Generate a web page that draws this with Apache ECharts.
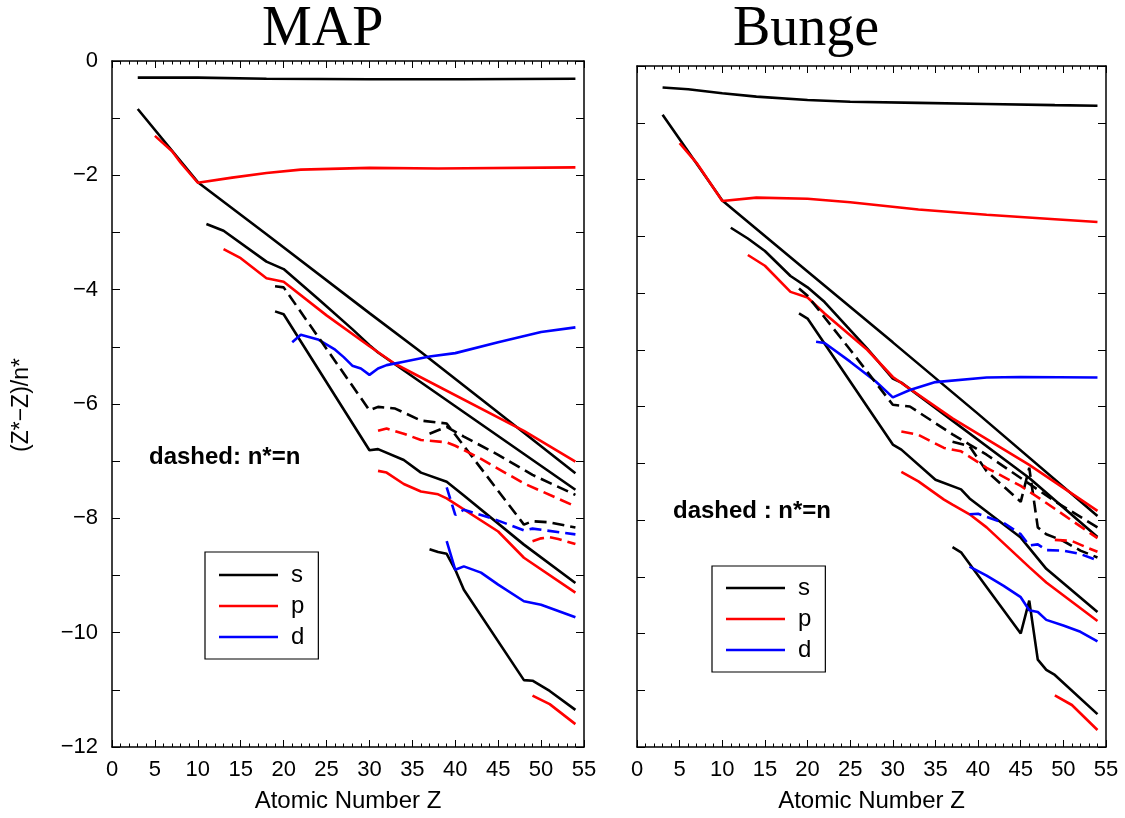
<!DOCTYPE html>
<html>
<head>
<meta charset="utf-8">
<script src="https://cdn.jsdelivr.net/npm/echarts@6/dist/echarts.min.js"></script>
<style>
  html, body { margin: 0; padding: 0; background: #fff; }
  #chart { width: 1125px; height: 818px; }
</style>
</head>
<body>
<div id="chart"></div>
<script>
// (Z* - Z)/n* against atomic number Z; every array holds [Z, value] pairs.
// "N" suffix = the same orbital evaluated with n* = n (drawn dashed).

// ---- MAP ----
const map1s = [[3,-0.29],[10,-0.29],[18,-0.31],[30,-0.32],[41,-0.32],[54,-0.31]];
const map2s = [[3,-0.84],[10,-2.12],[18,-3.03],[30,-4.41],[36,-5.09],[45,-6.15],[54,-7.21]];
const map3s = [[11,-2.85],[13,-2.97],[18,-3.51],[20,-3.64],[24,-4.16],[28,-4.69],[30,-4.97],[31,-5.10],[54,-7.50]];
const map4s = [[19,-4.38],[20,-4.43],[30,-6.81],[31,-6.79],[34,-6.98],[36,-7.20],[39,-7.36],[41,-7.60],[48,-8.46],[54,-9.13]];
const map5s = [[37,-8.54],[38,-8.59],[39,-8.62],[40,-8.90],[41,-9.25],[48,-10.83],[49,-10.84],[51,-11.02],[54,-11.35]];
const map2p = [[5,-1.31],[7,-1.58],[8,-1.78],[10,-2.13],[14,-2.04],[18,-1.96],[22,-1.90],[30,-1.87],[38,-1.88],[54,-1.86]];
const map3p = [[13,-3.29],[15,-3.45],[18,-3.80],[20,-3.86],[25,-4.45],[30,-4.99],[33,-5.30],[48,-6.47],[54,-7.01]];
const map4p = [[31,-7.17],[32,-7.20],[34,-7.40],[36,-7.53],[38,-7.58],[39,-7.65],[45,-8.23],[48,-8.69],[54,-9.30]];
const map5p = [[49,-11.10],[51,-11.25],[54,-11.60]];
const map3d = [[21,-4.92],[22,-4.79],[24,-4.87],[26,-5.05],[27,-5.18],[28,-5.33],[29,-5.38],[30,-5.49],[31,-5.38],[32,-5.32],[34,-5.26],[37,-5.17],[40,-5.11],[45,-4.92],[50,-4.74],[54,-4.66]];
const map4d = [[39,-8.40],[40,-8.90],[41,-8.84],[43,-8.95],[45,-9.16],[48,-9.45],[50,-9.51],[54,-9.73]];
const map4sN = [[19,-3.94],[20,-3.96],[30,-6.11],[31,-6.05],[33,-6.08],[36,-6.29],[39,-6.34],[48,-8.11],[49,-8.05],[51,-8.07],[54,-8.16]];
const map5sN = [[37,-6.52],[38,-6.46],[39,-6.40],[41,-6.57],[45,-6.89],[49,-7.24],[54,-7.59]];
const map4pN = [[31,-6.47],[32,-6.43],[34,-6.52],[36,-6.63],[39,-6.67],[40,-6.73],[43,-6.96],[48,-7.39],[54,-7.79]];
const map5pN = [[49,-8.40],[50,-8.35],[51,-8.33],[52,-8.36],[54,-8.45]];
const map4dN = [[39,-7.46],[40,-7.94],[41,-7.85],[43,-7.94],[45,-8.04],[48,-8.21],[49,-8.18],[54,-8.28]];

// ---- Bunge ----
const bun1s = [[3,-0.38],[6,-0.41],[10,-0.48],[14,-0.54],[20,-0.60],[25,-0.63],[33,-0.65],[41,-0.67],[49,-0.69],[54,-0.70]];
const bun2s = [[3,-0.86],[10,-2.37],[20,-3.62],[30,-4.87],[40,-6.13],[54,-7.93]];
const bun3s = [[11,-2.85],[13,-3.04],[15,-3.26],[18,-3.70],[20,-3.90],[22,-4.16],[27,-4.98],[30,-5.51],[31,-5.58],[46,-7.26],[54,-8.30]];
const bun4s = [[19,-4.36],[20,-4.45],[30,-6.67],[31,-6.76],[35,-7.29],[38,-7.46],[39,-7.62],[45,-8.31],[48,-8.86],[54,-9.62]];
const bun5s = [[37,-8.48],[38,-8.57],[45,-10.00],[46,-9.42],[47,-10.46],[48,-10.64],[49,-10.73],[54,-11.42]];
const bun2p = [[5,-1.36],[7,-1.71],[10,-2.38],[14,-2.32],[20,-2.34],[25,-2.40],[33,-2.53],[41,-2.62],[49,-2.70],[54,-2.75]];
const bun3p = [[13,-3.33],[15,-3.52],[18,-3.98],[20,-4.08],[22,-4.36],[27,-5.00],[30,-5.48],[37,-6.21],[46,-7.03],[54,-7.84]];
const bun4p = [[31,-7.15],[33,-7.32],[36,-7.64],[37,-7.73],[39,-7.90],[41,-8.13],[46,-8.83],[48,-9.10],[54,-9.78]];
const bun5p = [[49,-11.09],[51,-11.26],[54,-11.70]];
const bun3d = [[21,-4.86],[22,-4.88],[25,-5.21],[28,-5.56],[30,-5.84],[32,-5.71],[35,-5.57],[41,-5.49],[45,-5.48],[54,-5.49]];
const bun4d = [[39,-8.82],[41,-8.98],[43,-9.16],[45,-9.36],[46,-9.59],[47,-9.62],[48,-9.76],[50,-9.86],[52,-9.97],[54,-10.14]];
const bun4sN = [[19,-3.92],[20,-4.05],[25,-5.00],[30,-5.97],[32,-6.00],[37,-6.49],[39,-6.67],[41,-6.85],[49,-7.67],[54,-8.13]];
const bun5sN = [[37,-6.62],[39,-6.70],[41,-7.14],[45,-7.68],[46,-7.08],[47,-8.13],[48,-8.25],[50,-8.37],[52,-8.54],[54,-8.66]];
const bun4pN = [[31,-6.44],[33,-6.50],[36,-6.73],[38,-6.79],[41,-7.08],[45,-7.40],[48,-7.70],[54,-8.32]];
const bun5pN = [[49,-8.35],[51,-8.37],[53,-8.50],[54,-8.56]];
const bun4dN = [[39,-7.90],[40,-7.89],[43,-8.05],[45,-8.25],[46,-8.45],[47,-8.43],[48,-8.53],[50,-8.54],[52,-8.60],[54,-8.71]];

const panelTitles = ['MAP', 'Bunge'];
const legendLabels = ['s', 'p', 'd'];
const noteText = ['dashed: n*=n', 'dashed : n*=n'];
const xName = 'Atomic Number Z';
const yName = '(Z*\u2212Z)/n*';

const COLORS = { s: '#000000', p: '#ff0000', d: '#0000ff' };
const SANS = 'Liberation Sans, Arial, Helvetica, sans-serif';
const SERIF = 'Liberation Serif, Times New Roman, serif';

// solid curves first so legend icons take the solid style
const panels = [
  { solid: [['s', map1s], ['s', map2s], ['s', map3s], ['s', map4s], ['s', map5s],
            ['p', map2p], ['p', map3p], ['p', map4p], ['p', map5p],
            ['d', map3d], ['d', map4d]],
    dashed: [['s', map4sN], ['s', map5sN], ['p', map4pN], ['p', map5pN], ['d', map4dN]] },
  { solid: [['s', bun1s], ['s', bun2s], ['s', bun3s], ['s', bun4s], ['s', bun5s],
            ['p', bun2p], ['p', bun3p], ['p', bun4p], ['p', bun5p],
            ['d', bun3d], ['d', bun4d]],
    dashed: [['s', bun4sN], ['s', bun5sN], ['p', bun4pN], ['p', bun5pN], ['d', bun4dN]] }
];

const series = [];
[false, true].forEach(function (isDashed) {
  panels.forEach(function (panel, g) {
    (isDashed ? panel.dashed : panel.solid).forEach(function (item) {
      series.push({
        type: 'line', name: item[0], data: item[1],
        xAxisIndex: 2 * g, yAxisIndex: 2 * g,
        symbol: 'none', silent: true, smooth: false,
        lineStyle: { color: COLORS[item[0]], width: 2.6, type: isDashed ? [12, 6] : 'solid' },
        itemStyle: { color: COLORS[item[0]] }
      });
    });
  });
});

const grids = [
  { left: 112, top: 61, width: 472, height: 689 },
  { left: 637, top: 66, width: 469, height: 684 }
];

const frameLine = { show: true, onZero: false, lineStyle: { color: '#000', width: 1.5 } };
const xAxes = [], yAxes = [];
grids.forEach(function (gr, g) {
  [false, true].forEach(function (top) {
    xAxes.push({
      type: 'value', gridIndex: g, min: 0, max: 55, interval: 5,
      position: top ? 'top' : 'bottom',
      name: top ? '' : xName, nameLocation: 'middle', nameGap: 42,
      nameTextStyle: { fontFamily: SANS, fontSize: 24, color: '#000' },
      axisLine: frameLine,
      axisTick: { show: true, inside: true, length: 7, lineStyle: { color: '#000', width: 1 } },
      minorTick: { show: true, splitNumber: 5, length: 3.5, lineStyle: { color: '#000', width: 1 } },
      splitLine: { show: false },
      axisLabel: { show: !top, fontFamily: SANS, fontSize: 22, color: '#000', margin: 12 }
    });
  });
  [false, true].forEach(function (right) {
    yAxes.push({
      type: 'value', gridIndex: g, min: -12, max: 0, interval: 1,
      position: right ? 'right' : 'left',
      axisLine: frameLine,
      axisTick: { show: true, inside: true, length: 8, lineStyle: { color: '#000', width: 1 } },
      splitLine: { show: false },
      axisLabel: {
        show: g === 0 && !right, fontFamily: SANS, fontSize: 22, color: '#000', margin: 14,
        formatter: function (v) { return v % 2 === 0 ? String(v).replace('-', '\u2212') : ''; }
      }
    });
  });
});

const legendBase = {
  orient: 'vertical', icon: 'rect', itemWidth: 59, itemHeight: 2.6, itemGap: 7,
  borderColor: '#000', borderWidth: 1.2, backgroundColor: '#fff',
  selectedMode: false, data: legendLabels,
  textStyle: { fontFamily: SANS, fontSize: 24, lineHeight: 24, color: '#000', padding: [0, 0, 0, 8] }
};

const option = {
  animation: false,
  backgroundColor: '#fff',
  title: [
    { text: panelTitles[0], left: 257, top: -3,
      textStyle: { fontFamily: SERIF, fontSize: 56, fontWeight: 'normal', color: '#000' } },
    { text: panelTitles[1], left: 728, top: -3,
      textStyle: { fontFamily: SERIF, fontSize: 56, fontWeight: 'normal', color: '#000' } }
  ],
  grid: grids,
  xAxis: xAxes,
  yAxis: yAxes,
  legend: [
    Object.assign({}, legendBase, { left: 205, top: 552, padding: [11, 14, 10, 14] }),
    Object.assign({}, legendBase, { left: 712, top: 566, padding: [10, 14, 10, 14] })
  ],
  graphic: [
    { type: 'text', left: 149, top: 445, style: { text: noteText[0], font: 'bold 24px ' + SANS, fill: '#000' } },
    { type: 'text', left: 673, top: 499, style: { text: noteText[1], font: 'bold 24px ' + SANS, fill: '#000' } },
    { type: 'text', x: 22, y: 405, rotation: Math.PI / 2,
      style: { text: yName, font: '23px ' + SANS, fill: '#000', align: 'center', verticalAlign: 'middle' } }
  ],
  series: series
};

const chart = echarts.init(document.getElementById('chart'), null, { renderer: 'canvas' });
chart.setOption(option);
</script>
</body>
</html>
